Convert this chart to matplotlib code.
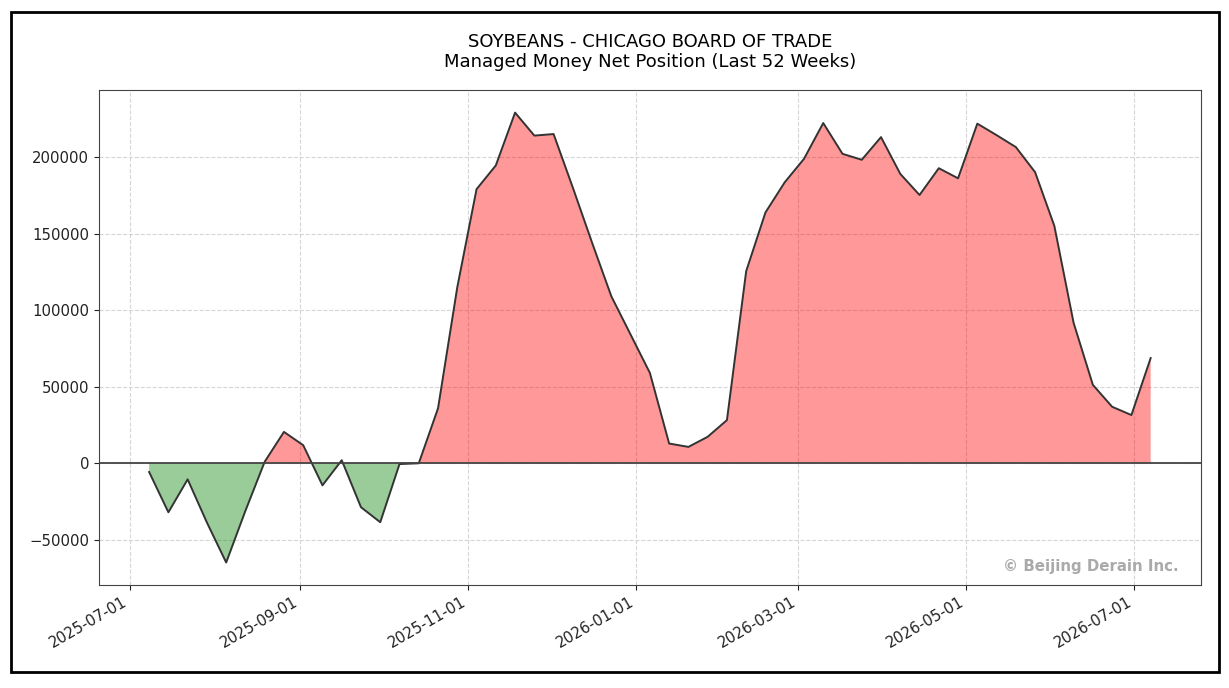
import numpy as np
import pandas as pd
import matplotlib
matplotlib.use("Agg")
import matplotlib.pyplot as plt
import matplotlib.dates as mdates

# Weekly report dates (Tuesdays) for the last 52 weeks
dates = pd.date_range("2025-07-08", periods=53, freq="7D")

# Managed money net position (contracts)
net_position = [
    -5700, -32000, -10500, -38700, -64800, -31000, 1000, 20500, 11800, -14400,
    2000, -28700, -38500, -500, 0, 35900, 115000, 179000, 194500, 229000,
    214000, 215000, 180000, 144000, 109000, 84000, 59000, 12900, 10700, 17300,
    28200, 125500, 163800, 183500, 198800, 222200, 202100, 198200, 213000, 189000,
    175200, 192700, 186100, 221800, 214300, 206500, 190100, 155000, 91700, 51200,
    36900, 31500, 68700,
]

title = "SOYBEANS - CHICAGO BOARD OF TRADE\nManaged Money Net Position (Last 52 Weeks)"
watermark = "\u00a9 Beijing Derain Inc."

values = np.array(net_position, dtype=float)

fig = plt.figure(figsize=(12.29, 6.88), dpi=100)
ax = fig.add_axes([0.0806, 0.1497, 0.8964, 0.7193])

ax.plot(dates, values, color="#333333", linewidth=1.4, zorder=3)
ax.fill_between(dates, values, 0, where=values >= 0, interpolate=True,
                color="red", alpha=0.4, linewidth=0, zorder=2)
ax.fill_between(dates, values, 0, where=values < 0, interpolate=True,
                color="green", alpha=0.4, linewidth=0, zorder=2)
ax.axhline(0, color="#444444", linewidth=1.3, zorder=4)

ax.grid(True, linestyle="--", color="#cccccc", alpha=0.8, linewidth=0.8)
ax.set_axisbelow(True)

ax.xaxis.set_major_locator(mdates.MonthLocator(bymonth=[1, 3, 5, 7, 9, 11]))
ax.xaxis.set_major_formatter(mdates.DateFormatter("%Y-%m-%d"))
for lbl in ax.get_xticklabels():
    lbl.set_rotation(30)
    lbl.set_ha("right")
ax.tick_params(axis="both", labelsize=10.7, colors="#222222")
for s in ax.spines.values():
    s.set_color("#444444")

ax.set_title(title, fontsize=13, pad=17, linespacing=1.1)

ax.text(0.98, 0.022, watermark, transform=ax.transAxes, ha="right", va="bottom",
        fontsize=10.8, fontweight="bold", color="#aaaaaa")

# outer frame around the whole figure
frame = plt.Rectangle((0.009, 0.023), 0.983, 0.96, transform=fig.transFigure,
                      fill=False, edgecolor="black", linewidth=2)
fig.patches.append(frame)

fig.savefig("out.png", dpi=100)
